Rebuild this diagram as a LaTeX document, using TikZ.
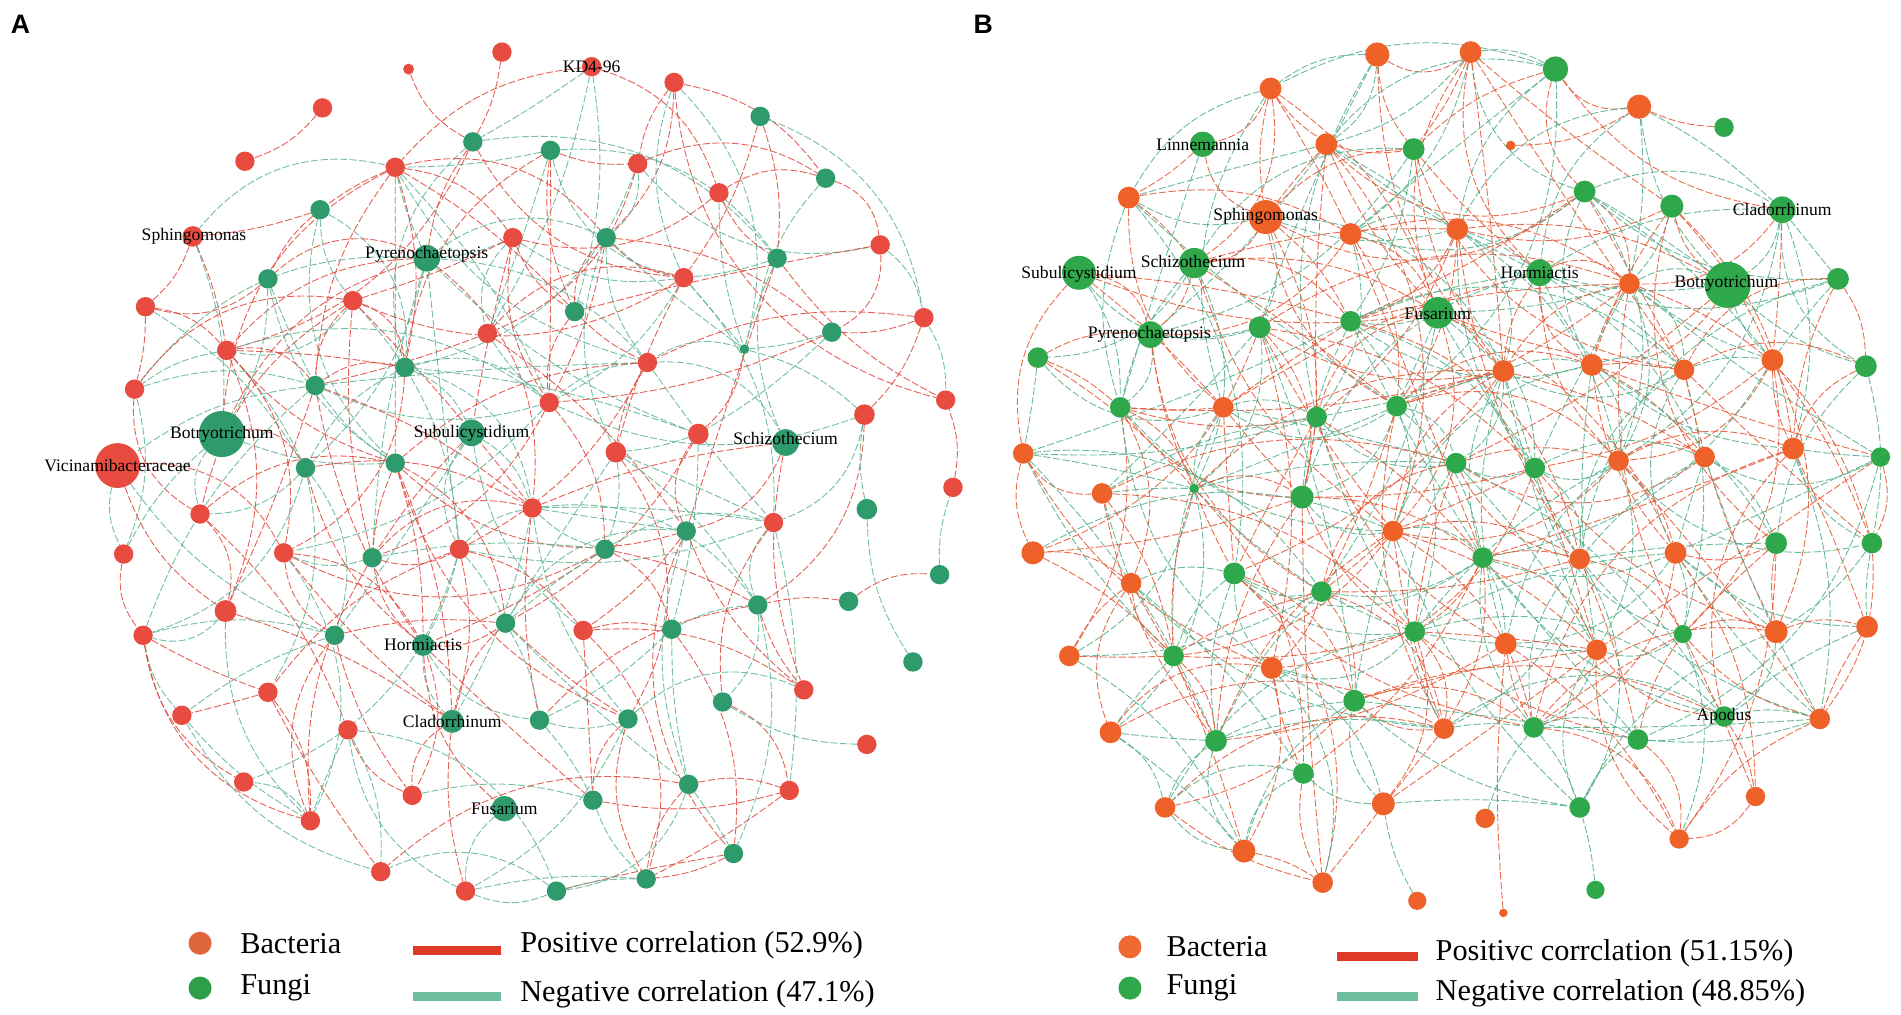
\documentclass[tikz,border=0pt]{standalone}
\usepackage{fontspec}
\setmainfont{Liberation Serif}
\newfontfamily\letterfont{Liberation Sans}
\usetikzlibrary{calc}
\definecolor{Ar}{HTML}{E84C40}
\definecolor{Ag}{HTML}{2F9B6C}
\definecolor{Br}{HTML}{EE6229}
\definecolor{Bg}{HTML}{2FA84B}
\definecolor{Aposc}{HTML}{E2473A}
\definecolor{Anegc}{HTML}{5CB497}
\definecolor{Bposc}{HTML}{E65532}
\definecolor{Bnegc}{HTML}{52B08A}
\definecolor{LegBac}{HTML}{E0673A}
\definecolor{LegFun}{HTML}{2F9E48}
\definecolor{LegBacB}{HTML}{EE6A30}
\definecolor{LegFunB}{HTML}{2EA84A}
\definecolor{BarRed}{HTML}{DF3A27}
\definecolor{BarGreen}{HTML}{6CBE9C}
\pgfdeclarelayer{bg}
\pgfsetlayers{bg,main}
\tikzset{
  nd/.style={circle, inner sep=0pt, minimum size=#1},
  edgebase/.style={line width=0.75pt, dash pattern=on 6pt off 2pt, opacity=0.85},
  Apos/.style={edgebase, draw=Aposc},
  Aneg/.style={edgebase, draw=Anegc},
  Bpos/.style={edgebase, draw=Bposc},
  Bneg/.style={edgebase, draw=Bnegc},
  lab/.style={inner sep=0pt, font=\fontsize{14.5}{15}\selectfont, text=black},
  legtxt/.style={inner sep=0pt, anchor=west, font=\fontsize{25}{26}\selectfont},
  panel/.style={inner sep=0pt, font=\letterfont\bfseries\fontsize{22}{22}\selectfont}
}
\begin{document}
\begin{tikzpicture}[x=1pt,y=-1pt]
\useasboundingbox (0,0) rectangle (1568,837);
\begin{pgfonlayer}{bg}
\fill[white] (0,0) rectangle (1568,837);
\end{pgfonlayer}

% ---------------- Panel A nodes ----------------
\foreach \x/\y/\s/\t/\g [count=\k] in {
414/43/16/r/0, 337/57/9/r/0, 488/55/16/r/1, 556/68/16/r/1, 266/89/16/r/0, 202/133/16/r/0,
627/96/16/g/1, 390/117/16/g/1, 454/124/16/g/1, 326/138/16/r/1, 526/135/16/r/1, 681/147/16/g/1,
593/159/16/r/1, 264/173/16/g/1, 159/195/17/r/1, 352/213/22/g/1, 423/196/16/r/1, 500/196/16/g/1,
726/202/16/r/1, 641/213/16/g/1, 564/229/16/r/1, 221/230/16/g/1, 291/248/16/r/1, 120/253/16/r/1,
474/257/16/g/1, 762/262/16/r/1, 402/275/16/r/1, 686/274/16/g/1, 614/288/8/g/1, 187/289/16/r/1,
534/299/16/r/1, 334/303/16/g/1, 111/321/16/r/1, 260/318/16/g/1, 453/332/16/r/1, 780/330/16/r/1,
183/358/38/g/1, 389/357/22/g/1, 576/358/17/r/1, 648/365/22/g/1, 713/342/17/r/1, 508/373/17/r/1,
97/384/37/r/1, 252/386/16/g/1, 326/382/16/g/1, 165/424/16/r/1, 102/457/16/r/1, 234/456/16/r/1,
307/460/16/g/1, 379/453/16/r/1, 439/419/16/r/1, 499/453/16/g/1, 566/438/16/g/1, 638/431/16/r/1,
715/420/17/g/0, 775/474/16/g/0, 700/496/16/g/0, 753/546/16/g/0, 186/504/18/r/1, 118/524/16/r/1,
276/524/16/g/1, 349/532/18/g/1, 417/514/16/g/1, 481/520/16/r/1, 554/519/16/g/1, 625/499/16/g/1,
221/571/16/r/1, 150/590/16/r/1, 287/602/16/r/1, 373/595/19/g/1, 445/594/16/g/1, 518/593/16/g/1,
596/579/16/g/1, 663/569/16/r/1, 715/614/16/r/0, 201/645/16/r/1, 256/677/16/r/1, 340/656/16/r/1,
416/667/21/g/1, 489/660/16/g/1, 568/647/16/g/1, 651/652/16/r/1, 605/704/16/g/1, 533/725/16/g/1,
459/735/16/g/1, 384/735/16/r/1, 314/719/16/r/1, 786/402/16/r/0}{
  \node[nd=\s pt, fill=A\t] (a\k) at (\x,\y) {};
  \expandafter\xdef\csname ax\k\endcsname{\x}
  \expandafter\xdef\csname ay\k\endcsname{\y}
  \expandafter\xdef\csname ag\k\endcsname{\g}
}

% ---------------- Panel B nodes ----------------
\foreach \x/\y/\s/\t/\g [count=\k] in {
1136/45/20/r/1, 1213/43/18/r/1, 1283/57/21/g/1, 1048/73/18/r/1, 1352/88/20/r/1, 1422/105/16/g/0,
1246/120/8/r/0, 992/119/21/g/1, 1094/119/18/r/1, 1166/123/18/g/1, 931/163/18/r/1, 1044/179/28/r/1,
1114/193/18/r/1, 1202/189/18/r/1, 1307/158/18/g/1, 1379/170/19/g/1, 1470/173/22/g/1, 890/225/28/g/1,
985/217/25/g/1, 1270/225/22/g/1, 1344/234/17/r/1, 1425/235/38/g/1, 1516/230/18/g/1, 1186/258/26/g/1,
1114/265/17/g/1, 1039/270/18/g/1, 949/276/22/g/1, 856/295/17/g/1, 1240/306/18/r/1, 1313/301/18/r/1,
1389/305/17/r/1, 1462/297/18/r/1, 1539/302/18/g/1, 924/336/17/g/1, 1009/336/17/r/1, 1086/344/17/g/1,
1152/335/17/g/1, 844/374/17/r/1, 1201/382/17/g/1, 1266/386/17/g/1, 1335/380/17/r/1, 1406/377/17/r/1,
1479/370/18/r/1, 1551/377/16/g/1, 909/407/17/r/1, 985/403/8/g/1, 1074/410/19/g/1, 852/456/19/r/1,
933/481/17/r/1, 1018/473/18/g/1, 1090/488/17/g/1, 1149/438/17/r/1, 1223/460/17/g/1, 1303/461/17/r/1,
1382/456/18/r/1, 1465/448/18/g/1, 1544/448/17/g/1, 882/541/17/r/1, 968/541/17/g/1, 1049/551/18/r/1,
1167/521/17/g/1, 1242/531/18/r/1, 1317/536/17/r/1, 1388/523/15/g/1, 1465/521/19/r/1, 1540/517/18/r/1,
1117/578/18/g/1, 916/604/18/r/1, 1003/611/18/g/1, 1191/601/17/r/1, 1265/600/17/g/1, 1351/610/17/g/1,
1422/591/17/g/1, 1501/593/17/r/1, 1075/638/17/g/1, 961/666/17/r/1, 1141/663/19/r/1, 1303/666/17/g/1,
1448/657/16/r/1, 1225/675/16/r/0, 1385/692/16/r/1, 1026/702/19/r/1, 1091/728/17/r/1, 1316/734/15/g/0,
1169/743/15/r/0, 1240/753/7/r/0}{
  \node[nd=\s pt, fill=B\t] (b\k) at (\x,\y) {};
  \expandafter\xdef\csname bx\k\endcsname{\x}
  \expandafter\xdef\csname by\k\endcsname{\y}
  \expandafter\xdef\csname bg\k\endcsname{\g}
}

% ---------------- Edges ----------------
\begin{pgfonlayer}{bg}
\pgfmathsetseed{11}
\foreach \i in {1,...,87}{
  \pgfmathtruncatemacro\js{\i+1}
  \foreach \j in {\js,...,88}{
    \edef\gi{\csname ag\i\endcsname}\edef\gj{\csname ag\j\endcsname}
    \pgfmathtruncatemacro\ok{\gi*\gj}
    \ifnum\ok=1
      \edef\xi{\csname ax\i\endcsname}\edef\xj{\csname ax\j\endcsname}
      \edef\yi{\csname ay\i\endcsname}\edef\yj{\csname ay\j\endcsname}
      \pgfmathsetmacro\dd{veclen(\xi-\xj,\yi-\yj)}
      \pgfmathsetmacro\rr{rnd}
      \pgfmathtruncatemacro\ok{(\dd<290)*(\rr<(0.66-\dd/450))}
      \ifnum\ok=1
        \pgfmathtruncatemacro\cc{rnd<0.53}
        \pgfmathsetmacro\bb{rand*34}
        \ifnum\cc=1
          \draw[Apos] (a\i) to[bend left=\bb] (a\j);
        \else
          \draw[Aneg] (a\i) to[bend left=\bb] (a\j);
        \fi
      \fi
    \fi
  }
}
\foreach \u/\v/\b in {5/6/15, 2/8/-20, 1/8/10, 88/36/-15, 4/36/-35, 57/56/20, 57/66/-10}{
  \draw[Apos] (a\u) to[bend left=\b] (a\v);
}
\foreach \u/\v/\b in {55/41/10, 55/58/-15, 56/88/10, 75/73/15}{
  \draw[Aneg] (a\u) to[bend left=\b] (a\v);
}

\pgfmathsetseed{23}
\foreach \i in {1,...,85}{
  \pgfmathtruncatemacro\js{\i+1}
  \foreach \j in {\js,...,86}{
    \edef\gi{\csname bg\i\endcsname}\edef\gj{\csname bg\j\endcsname}
    \pgfmathtruncatemacro\ok{\gi*\gj}
    \ifnum\ok=1
      \edef\xi{\csname bx\i\endcsname}\edef\xj{\csname bx\j\endcsname}
      \edef\yi{\csname by\i\endcsname}\edef\yj{\csname by\j\endcsname}
      \pgfmathsetmacro\dd{veclen(\xi-\xj,\yi-\yj)}
      \pgfmathsetmacro\rr{rnd}
      \pgfmathtruncatemacro\ok{(\dd<330)*(\rr<(0.86-\dd/400))}
      \ifnum\ok=1
        \pgfmathtruncatemacro\cc{rnd<0.51}
        \pgfmathsetmacro\bb{rand*34}
        \ifnum\cc=1
          \draw[Bpos] (b\i) to[bend left=\bb] (b\j);
        \else
          \draw[Bneg] (b\i) to[bend left=\bb] (b\j);
        \fi
      \fi
    \fi
  }
}
\foreach \u/\v/\b in {7/5/-15, 5/6/-10, 86/62/5}{
  \draw[Bpos] (b\u) to[bend left=\b] (b\v);
}
\foreach \u/\v/\b in {85/77/10, 84/78/-5, 80/71/10}{
  \draw[Bneg] (b\u) to[bend left=\b] (b\v);
}
\end{pgfonlayer}

% ---------------- Labels ----------------
\node[lab] (lA1) at (488,55) {KD4-96};
\node[lab] (lA2) at (160,195) {Sphingomonas};
\node[lab] (lA3) at (352,210) {Pyrenochaetopsis};
\node[lab] (lA4) at (183,358) {Botryotrichum};
\node[lab] (lA5) at (389,357) {Subulicystidium};
\node[lab] (lA6) at (648,362) {Schizothecium};
\node[lab] (lA7) at (97,384) {Vicinamibacteraceae};
\node[lab] (lA8) at (349,532) {Hormiactis};
\node[lab] (lA9) at (373,595) {Cladorrhinum};
\node[lab] (lA10) at (416,667) {Fusarium};

\node[lab] (lB1) at (992,119) {Linnemannia};
\node[lab] (lB2) at (1044,178) {Sphingomonas};
\node[lab] (lB3) at (890,226) {Subulicystidium};
\node[lab] (lB4) at (984,216) {Schizothecium};
\node[lab] (lB5) at (948,276) {Pyrenochaetopsis};
\node[lab] (lB6) at (1270,225) {Hormiactis};
\node[lab] (lB7) at (1186,259) {Fusarium};
\node[lab] (lB8) at (1424,234) {Botryotrichum};
\node[lab] (lB9) at (1470,173) {Cladorrhinum};
\node[lab] (lB10) at (1422,591) {Apodus};

% ---------------- Panel letters ----------------
\node[panel] (pA) at (17,20) {A};
\node[panel] (pB) at (811,20) {B};

% ---------------- Legend A ----------------
\node[nd=19pt, fill=LegBac] (legA1) at (165,778) {};
\node[legtxt] (legA2) at (198,778) {Bacteria};
\node[nd=19pt, fill=LegFun] (legA3) at (165,815) {};
\node[legtxt] (legA4) at (198,815) {Fungi};
\node[inner sep=0pt, minimum width=73pt, minimum height=8pt, fill=BarRed] (legA5) at (377,784) {};
\node[inner sep=0pt, minimum width=73pt, minimum height=8pt, fill=BarGreen] (legA6) at (377,822) {};
\node[legtxt] (legA7) at (429,780) {Positive correlation (52.9\%)};
\node[legtxt] (legA8) at (429,820) {Negative correlation (47.1\%)};

% ---------------- Legend B ----------------
\node[nd=19pt, fill=LegBacB] (legB1) at (932,781) {};
\node[legtxt] (legB2) at (962,781) {Bacteria};
\node[nd=19pt, fill=LegFunB] (legB3) at (932,815) {};
\node[legtxt] (legB4) at (962,815) {Fungi};
\node[inner sep=0pt, minimum width=67pt, minimum height=8pt, fill=BarRed] (legB5) at (1136,789) {};
\node[inner sep=0pt, minimum width=67pt, minimum height=8pt, fill=BarGreen] (legB6) at (1136,822) {};
\node[legtxt] (legB7) at (1184,786) {Positivc corrclation (51.15\%)};
\node[legtxt] (legB8) at (1184,819) {Negative correlation (48.85\%)};
\end{tikzpicture}
\end{document}
